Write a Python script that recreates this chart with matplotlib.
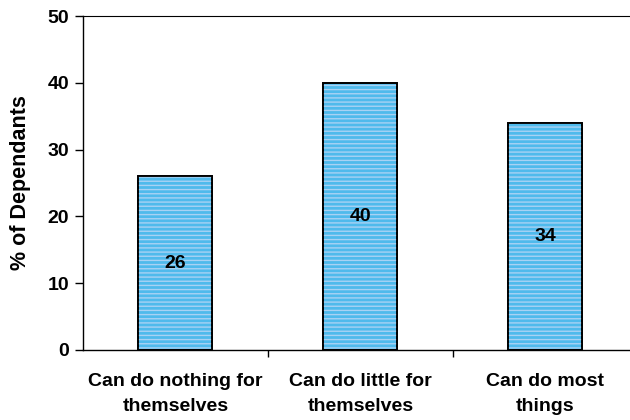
import matplotlib
matplotlib.use('Agg')
import matplotlib.pyplot as plt
import numpy as np

categories = ['Can do nothing for\nthemselves', 'Can do little for\nthemselves', 'Can do most\nthings']
percent = [26, 40, 34]
y_ticks = [0, 10, 20, 30, 40, 50]

plt.rcParams['font.family'] = ['Liberation Sans', 'DejaVu Sans']
plt.rcParams['font.weight'] = 'bold'

fig = plt.figure(figsize=(6.3, 4.2), dpi=100)
ax = fig.add_axes([83 / 630, 70 / 420, 547 / 630, 334 / 420])

x = np.arange(len(categories))
ax.bar(x, percent, width=0.4, color='#4FBAEC', edgecolor='black', linewidth=1.3, zorder=2)
# faint striped texture on top of the fill
ax.bar(x, percent, width=0.4, color='none', edgecolor='#A8D2F4', hatch='----', linewidth=0, zorder=3)
ax.bar(x, percent, width=0.4, color='none', edgecolor='black', linewidth=1.3, zorder=4)

for xi, v in zip(x, percent):
    ax.text(xi, v / 2, str(v), ha='center', va='center', fontsize=14, fontweight='bold', zorder=5)

ax.set_xlim(-0.5, 2.457)
ax.set_ylim(0, 50)
ax.set_yticks(y_ticks)
ax.tick_params(axis='y', labelsize=14, length=6, width=1, pad=4)
ax.set_xticks([0.5, 1.5])
ax.set_xticklabels([])
ax.tick_params(axis='x', length=5, width=1)
for xi, lab in zip(x, categories):
    ax.text(xi, -0.07, lab, transform=ax.get_xaxis_transform(), ha='center', va='top',
            fontsize=14, fontweight='bold', linespacing=1.55)

ax.set_ylabel('% of Dependants', fontsize=15.5, fontweight='bold', labelpad=12)
ax.spines['right'].set_visible(False)
ax.spines['top'].set_linewidth(0.8)
ax.spines['left'].set_linewidth(1)
ax.spines['bottom'].set_linewidth(1)

fig.savefig('out.png', dpi=100)
